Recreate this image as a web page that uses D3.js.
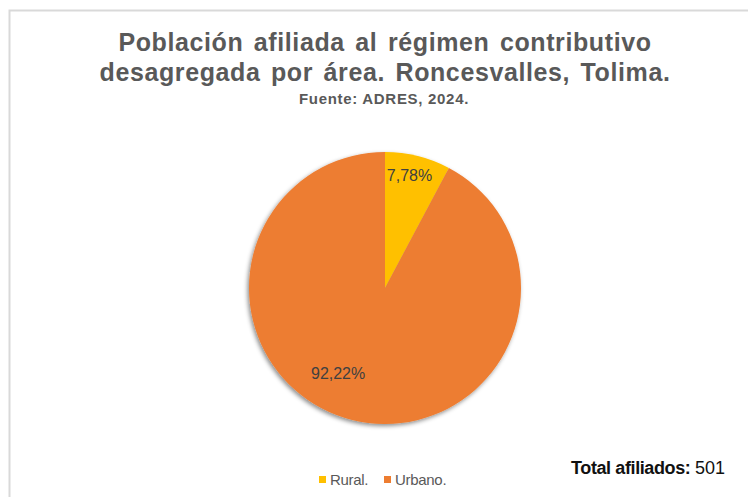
<!DOCTYPE html>
<html><head><meta charset="utf-8">
<script src="https://cdn.jsdelivr.net/npm/d3@7"></script>
<style>html,body{margin:0;padding:0;background:#fff;}svg{display:block;}</style>
</head><body>
<svg id="c" width="748" height="497"></svg>
<script>
const categories = ["Rural.", "Urbano."];
const values = [39, 462];
const percentLabels = ["7,78%", "92,22%"];
const colors = ["#FFC000", "#ED7D31"];
const titleLines = ["Población afiliada al régimen contributivo", "desagregada por área. Roncesvalles, Tolima."];
const subtitle = "Fuente: ADRES, 2024.";
const totalLabel = "Total afiliados:";
const totalValue = "501";

const svg = d3.select("#c");
const W = 748, H = 497;
svg.append("rect").attr("x", 0).attr("y", 0).attr("width", W).attr("height", H).attr("fill", "#fff");
// frame
svg.append("path").attr("d", `M9.5,${H} L9.5,10.5 L${W},10.5`).attr("fill", "none").attr("stroke", "#d9d9d9").attr("stroke-width", 2);

const defs = svg.append("defs");
const f = defs.append("filter").attr("id", "sh").attr("x", "-20%").attr("y", "-20%").attr("width", "140%").attr("height", "140%");
f.append("feDropShadow").attr("dx", -1.5).attr("dy", 2).attr("stdDeviation", 2).attr("flood-color", "#000").attr("flood-opacity", 0.45);

const font = "'Liberation Sans', Arial, sans-serif";
const cx = 385;
const t = svg.append("text").attr("text-anchor", "middle").attr("font-family", font).attr("font-weight", "bold")
  .attr("font-size", 25).attr("fill", "#595959").attr("letter-spacing", 0.6).attr("word-spacing", 3);
titleLines.forEach((l, i) => t.append("tspan").attr("x", cx).attr("y", 51 + i * 30).text(l));
svg.append("text").attr("x", 384).attr("y", 104).attr("text-anchor", "middle").attr("font-family", font)
  .attr("font-weight", "bold").attr("font-size", 15).attr("letter-spacing", 0.7).attr("fill", "#595959").text(subtitle);

const pcx = 385, pcy = 288, R = 136;
const pie = d3.pie().sort(null).value(d => d)(values);
const arc = d3.arc().innerRadius(0).outerRadius(R);
const g = svg.append("g").attr("transform", `translate(${pcx},${pcy})`);
g.append("g").attr("filter", "url(#sh)").selectAll("path").data(pie).join("path")
  .attr("d", arc).attr("fill", (d, i) => colors[i]);

const labelR = [115, 97];
const labelShift = [-0.03, 0.26];
g.selectAll("text.lbl").data(pie).join("text").attr("class", "lbl")
  .attr("transform", (d, i) => {
    const a = (d.startAngle + d.endAngle) / 2 + labelShift[i];
    return `translate(${labelR[i] * Math.sin(a)},${-labelR[i] * Math.cos(a)})`;
  })
  .attr("text-anchor", "middle").attr("dy", "0.35em")
  .attr("font-family", font).attr("font-size", 16).attr("fill", "#404040")
  .text((d, i) => percentLabels[i]);

// legend
const lg = svg.append("g").attr("font-family", font).attr("font-size", 15).attr("fill", "#595959");
const legX = [319, 384];
categories.forEach((c, i) => {
  lg.append("rect").attr("x", legX[i]).attr("y", 476).attr("width", 7).attr("height", 7).attr("fill", colors[i]);
  lg.append("text").attr("x", legX[i] + 11).attr("y", 485).attr("letter-spacing", -0.3).text(c);
});

const tt = svg.append("text").attr("x", 725).attr("y", 474).attr("text-anchor", "end").attr("font-family", font)
  .attr("font-size", 18).attr("fill", "#111");
tt.append("tspan").attr("font-weight", "bold").attr("letter-spacing", -0.4).text(totalLabel + " ");
tt.append("tspan").text(totalValue);
</script>
</body></html>
